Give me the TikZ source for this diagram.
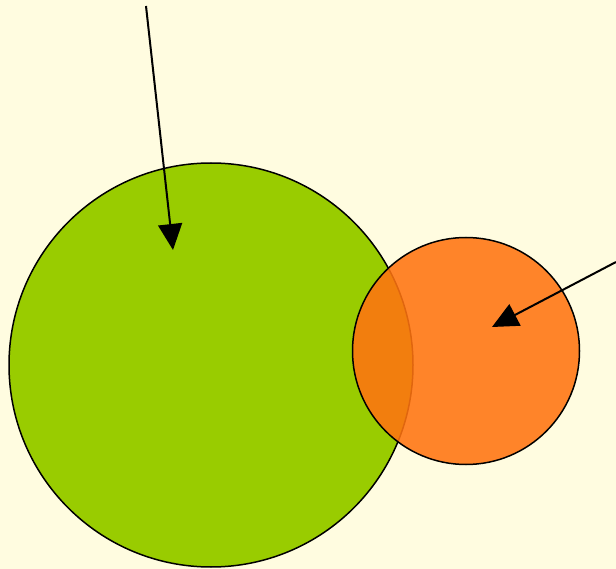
\documentclass[tikz,border=0pt]{standalone}
\usetikzlibrary{arrows.meta}
\definecolor{bg}{HTML}{FFFCE0}
\definecolor{grn}{HTML}{99CC00}
\definecolor{org}{HTML}{FF7410}
\tikzset{
  circ/.style={circle, draw=black, line width=1.5pt, inner sep=0pt},
  pointer/.style={line width=2pt, -{Triangle[width=24pt,length=26pt]}}
}
\begin{document}
\begin{tikzpicture}[x=1pt,y=-1pt]
\fill[bg] (0,0) rectangle (616,569);
\useasboundingbox (0,0) rectangle (616,569);
\node[circ, fill=grn, minimum size=404pt] (g) at (211,365) {};
\node[circ, fill=org, fill opacity=0.88, minimum size=227pt] (o) at (466,351) {};
\coordinate (s1) at (146,6);
\coordinate (t1) at (173,250);
\coordinate (s2) at (616,262);
\coordinate (t2) at (492,327);
\draw[pointer] (s1) -- (t1);
\draw[pointer] (s2) -- (t2);
\end{tikzpicture}
\end{document}
